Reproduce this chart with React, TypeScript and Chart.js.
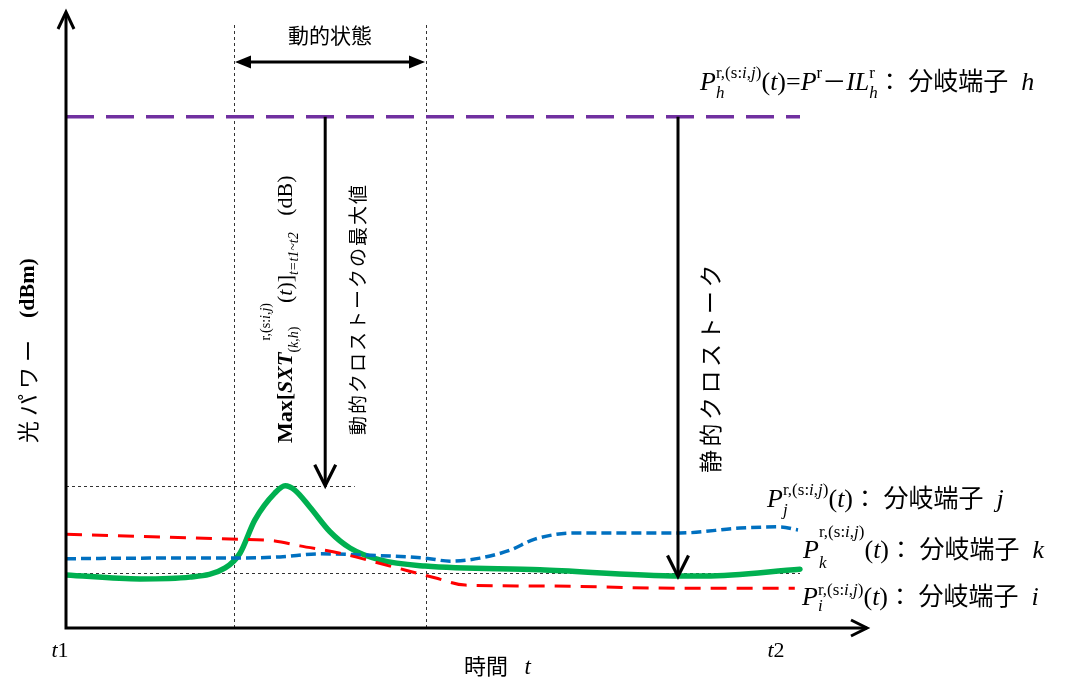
import React, { useEffect, useRef } from 'react';
import { Chart, registerables } from 'chart.js';

Chart.register(...registerables);

// ---- data (time in arbitrary units, optical power in arbitrary dBm units) ----
const timeK = [0, 9.25, 15.5, 19.9, 21.75, 23.6, 26.1, 27.4, 28.6, 30.5, 33, 35.5, 39.25, 44.9, 59.25, 76.75, 79.9, 91.75];
const powerK = [8.65, 8.0, 8.3, 9.8, 12.2, 17.6, 22.0, 23.2, 22.5, 19.7, 15.7, 13.05, 11.1, 10.1, 9.5, 8.5, 8.5, 9.6];

const timeJ = [0, 10.5, 20.5, 26.75, 31.75, 37.4, 44.9, 48, 51.75, 55.5, 58.6, 63.6, 76.75, 84.25, 89.25, 91.5];
const powerJ = [11.3, 11.4, 11.4, 11.6, 12.1, 11.9, 11.4, 10.9, 11.4, 12.7, 14.5, 15.5, 15.5, 16.3, 16.5, 16.0];

const timeI = [0, 20.5, 26.1, 29.25, 34.25, 40.5, 46.1, 49.9, 59.25, 76.75, 91.1];
const powerI = [15.3, 14.5, 14.2, 13.4, 12.2, 10.1, 8.2, 7.0, 6.85, 6.5, 6.5];

const timeH = [0, 91.75];
const powerH = [83.4, 83.4];

const dynamicWindow = [21, 45];
const maxArrowTime = 32.4;
const peakLevel = 23.2;
const peakLineEnd = 36.1;
const staticArrowTime = 76.5;
const staticArrowTip = 8.4;
const staticLevel = 9.0;
const staticLineEnd = 91.75;

const tickTimes = [-0.75, 88.75];
const tickLabels = ['t1', 't2'];

const SERIF = '"Liberation Serif", "Times New Roman", serif';
const CJK = '"Noto Sans CJK JP", "Noto Sans CJK SC", sans-serif';

type Seg = { t: string; st: string; s: number; dy: number; cjk?: boolean };
type Item = Seg | { sub: Seg[]; sup: Seg[]; supOff?: number };

const R = (t: string, s: number, dy = 0): Seg => ({ t, st: '', s, dy });
const I = (t: string, s: number, dy = 0): Seg => ({ t, st: 'italic ', s, dy });
const B = (t: string, s: number, dy = 0): Seg => ({ t, st: 'bold ', s, dy });
const BI = (t: string, s: number, dy = 0): Seg => ({ t, st: 'italic bold ', s, dy });
const J = (t: string, s: number, dy = 0): Seg => ({ t, st: '', s, dy, cjk: true });

const supR = (s: number, dy: number): Seg[] => [R('r,(s:', s, dy), I('i', s, dy), R(',', s, dy), I('j', s, dy), R(')', s, dy)];

function drawSegs(ctx: CanvasRenderingContext2D, segs: Seg[], x0: number) {
  let cx = x0;
  for (const s of segs) {
    ctx.font = `${s.st}${s.s}px ${s.cjk ? CJK : SERIF}`;
    ctx.fillText(s.t, cx, s.dy);
    cx += ctx.measureText(s.t).width;
  }
  return cx - x0;
}

function drawRich(ctx: CanvasRenderingContext2D, x: number, y: number, items: Item[], angle = 0) {
  ctx.save();
  ctx.translate(x, y);
  ctx.rotate(angle);
  ctx.textAlign = 'left';
  ctx.textBaseline = 'alphabetic';
  ctx.fillStyle = '#000';
  let cx = 0;
  for (const it of items) {
    if ('sub' in it) {
      const off = it.supOff || 0;
      const w1 = drawSegs(ctx, it.sub, cx);
      const w2 = drawSegs(ctx, it.sup, cx + off) + off;
      cx += Math.max(w1, w2);
    } else {
      cx += drawSegs(ctx, [it], cx);
    }
  }
  ctx.restore();
}

function vText(ctx: CanvasRenderingContext2D, text: string, x: number, y: number, font: string, spacing: string) {
  ctx.save();
  ctx.translate(x, y);
  ctx.rotate(-Math.PI / 2);
  ctx.font = font;
  (ctx as any).letterSpacing = spacing;
  ctx.textAlign = 'left';
  ctx.textBaseline = 'middle';
  ctx.fillStyle = '#000';
  ctx.fillText(text, 0, 0);
  ctx.restore();
}

function vArrowDown(ctx: CanvasRenderingContext2D, x: number, y0: number, y1: number) {
  ctx.save();
  ctx.strokeStyle = '#000';
  ctx.lineWidth = 3;
  ctx.setLineDash([]);
  ctx.beginPath();
  ctx.moveTo(x, y0);
  ctx.lineTo(x, y1 - 1);
  ctx.stroke();
  ctx.lineWidth = 3.2;
  ctx.beginPath();
  ctx.moveTo(x - 10.5, y1 - 21);
  ctx.lineTo(x, y1);
  ctx.lineTo(x + 10.5, y1 - 21);
  ctx.stroke();
  ctx.restore();
}

const overlay = {
  id: 'overlay',
  beforeDatasetsDraw(chart: any) {
    const ctx: CanvasRenderingContext2D = chart.ctx;
    const xs = chart.scales.x;
    const ys = chart.scales.y;
    const { left, bottom } = chart.chartArea;
    ctx.save();
    ctx.strokeStyle = '#333';
    ctx.lineWidth = 1;
    ctx.setLineDash([3, 3]);
    for (const t of dynamicWindow) {
      const px = Math.round(xs.getPixelForValue(t)) + 0.5;
      ctx.beginPath();
      ctx.moveTo(px, 25);
      ctx.lineTo(px, bottom);
      ctx.stroke();
    }
    let py = Math.round(ys.getPixelForValue(peakLevel)) + 0.5;
    ctx.beginPath();
    ctx.moveTo(left, py);
    ctx.lineTo(xs.getPixelForValue(peakLineEnd), py);
    ctx.stroke();
    py = Math.round(ys.getPixelForValue(staticLevel)) + 0.5;
    ctx.beginPath();
    ctx.moveTo(left, py);
    ctx.lineTo(xs.getPixelForValue(staticLineEnd), py);
    ctx.stroke();
    ctx.restore();
  },
  afterDatasetsDraw(chart: any) {
    const ctx: CanvasRenderingContext2D = chart.ctx;
    const xs = chart.scales.x;
    const ys = chart.scales.y;
    const { left, right, top, bottom } = chart.chartArea;
    ctx.save();
    // axes
    ctx.strokeStyle = '#000';
    ctx.lineWidth = 3;
    ctx.setLineDash([]);
    ctx.lineCap = 'butt';
    ctx.beginPath();
    ctx.moveTo(left, bottom + 1.5);
    ctx.lineTo(left, top - 2);
    ctx.moveTo(left - 1.5, bottom);
    ctx.lineTo(right + 1, bottom);
    ctx.stroke();
    ctx.beginPath();
    ctx.moveTo(left - 8, top + 14);
    ctx.lineTo(left, top - 3);
    ctx.lineTo(left + 8, top + 14);
    ctx.moveTo(right - 15, bottom - 8);
    ctx.lineTo(right + 1, bottom);
    ctx.lineTo(right - 15, bottom + 8);
    ctx.stroke();

    // dynamic state double arrow
    const xa = xs.getPixelForValue(dynamicWindow[0]);
    const xb = xs.getPixelForValue(dynamicWindow[1]);
    const ya = 62;
    ctx.beginPath();
    ctx.moveTo(xa + 12, ya);
    ctx.lineTo(xb - 12, ya);
    ctx.stroke();
    ctx.fillStyle = '#000';
    ctx.beginPath();
    ctx.moveTo(xa + 1, ya);
    ctx.lineTo(xa + 17, ya - 6.5);
    ctx.lineTo(xa + 17, ya + 6.5);
    ctx.closePath();
    ctx.fill();
    ctx.beginPath();
    ctx.moveTo(xb - 1, ya);
    ctx.lineTo(xb - 17, ya - 6.5);
    ctx.lineTo(xb - 17, ya + 6.5);
    ctx.closePath();
    ctx.fill();
    ctx.font = `21px ${CJK}`;
    ctx.textAlign = 'center';
    ctx.textBaseline = 'middle';
    ctx.fillText('動的状態', (xa + xb) / 2, 35);

    // crosstalk arrows
    const yH = ys.getPixelForValue(powerH[0]);
    vArrowDown(ctx, xs.getPixelForValue(maxArrowTime), yH, ys.getPixelForValue(peakLevel));
    vArrowDown(ctx, xs.getPixelForValue(staticArrowTime), yH, ys.getPixelForValue(staticArrowTip));

    // tick labels
    ctx.textBaseline = 'alphabetic';
    tickTimes.forEach((t, i) => {
      const px = xs.getPixelForValue(t);
      const lab = tickLabels[i];
      ctx.font = `italic 22px ${SERIF}`;
      const w1 = ctx.measureText(lab[0]).width;
      ctx.font = `22px ${SERIF}`;
      const w2 = ctx.measureText(lab.slice(1)).width;
      const x0 = px - (w1 + w2) / 2;
      ctx.textAlign = 'left';
      ctx.font = `italic 22px ${SERIF}`;
      ctx.fillText(lab[0], x0, 657);
      ctx.font = `22px ${SERIF}`;
      ctx.fillText(lab.slice(1), x0 + w1, 657);
    });
    // x title
    drawRich(ctx, 464, 674, [J('時間', 22), R('   ', 22), I('t', 23)]);
    // y title
    vText(ctx, '光パワー', 28, 443, `22px ${CJK}`, '5px');
    vText(ctx, '(dBm)', 28, 318, `bold 22px ${SERIF}`, '0px');

    // rotated annotations
    drawRich(ctx, 292, 443, [
      B('Max[', 22), BI('SXT', 22),
      { sub: [R('(', 14, 6), I('k', 14, 6), R(',', 14, 6), I('h', 14, 6), R(')', 14, 6)], sup: supR(14, -22), supOff: 12 },
      R('(', 22), I('t', 22), R(')]', 22),
      I('t=t1~t2', 14, 6),
      R('   (dB)', 22),
    ], -Math.PI / 2);
    vText(ctx, '動的クロストークの最大値', 358, 435, `19px ${CJK}`, '2px');
    vText(ctx, '静的クロストーク', 710, 473, `23px ${CJK}`, '3.5px');

    // series labels
    drawRich(ctx, 700, 90, [
      I('P', 26), { sub: [I('h', 17, 8)], sup: supR(17, -12) },
      R('(', 26), I('t', 26), R(')=', 26), I('P', 26), R('r', 17, -12), J('－', 24),
      I('IL', 26), { sub: [I('h', 17, 8)], sup: [R('r', 17, -12)] },
      J('：', 24), R(' ', 26), J('分岐端子', 25), R('  ', 26), I('h', 26),
    ]);
    drawRich(ctx, 767, 507, [
      I('P', 26), { sub: [I('j', 17, 8)], sup: supR(17, -12) },
      R('(', 26), I('t', 26), R(')', 26),
      J('：', 24), R(' ', 26), J('分岐端子', 25), R('  ', 26), I('j', 26),
    ]);
    drawRich(ctx, 803, 558, [
      I('P', 26), { sub: [I('k', 17, 10)], sup: supR(17, -21) },
      R('(', 26), I('t', 26), R(')', 26),
      J('：', 24), R(' ', 26), J('分岐端子', 25), R('  ', 26), I('k', 26),
    ]);
    drawRich(ctx, 802, 605, [
      I('P', 26), { sub: [I('i', 17, 6)], sup: supR(17, -10) },
      R('(', 26), I('t', 26), R(')', 26),
      J('：', 24), R(' ', 26), J('分岐端子', 25), R('  ', 26), I('i', 26),
    ]);
    ctx.restore();
  },
};

const pts = (xs: number[], ys: number[]) => xs.map((x, i) => ({ x, y: ys[i] }));

export default function App() {
  const ref = useRef<HTMLCanvasElement>(null);
  useEffect(() => {
    if (!ref.current) return;
    const chart = new Chart(ref.current, {
      type: 'line',
      data: {
        datasets: [
          { label: 'h', data: pts(timeH, powerH), borderColor: 'rgb(112,48,160)', borderWidth: 3.5, borderDash: [28, 12], pointRadius: 0, tension: 0 },
          { label: 'i', data: pts(timeI, powerI), borderColor: 'rgb(255,0,0)', borderWidth: 3, borderDash: [16, 10], pointRadius: 0, cubicInterpolationMode: 'monotone' },
          { label: 'j', data: pts(timeJ, powerJ), borderColor: 'rgb(0,112,192)', borderWidth: 3.5, borderDash: [10, 5], pointRadius: 0, cubicInterpolationMode: 'monotone' },
          { label: 'k', data: pts(timeK, powerK), borderColor: 'rgb(0,176,80)', borderWidth: 5.5, pointRadius: 0, cubicInterpolationMode: 'monotone', borderCapStyle: 'round', borderJoinStyle: 'round' },
        ] as any,
      },
      options: {
        animation: false,
        responsive: true,
        maintainAspectRatio: false,
        devicePixelRatio: 1,
        layout: { padding: { left: 66, right: 199, top: 15, bottom: 52 } },
        scales: {
          x: { type: 'linear', min: 0, max: 100, display: false },
          y: { type: 'linear', min: 0, max: 100, display: false },
        },
        plugins: { legend: { display: false }, tooltip: { enabled: false } },
        events: [],
      },
      plugins: [overlay],
    });
    return () => chart.destroy();
  }, []);
  return (
    <div style={{ position: 'absolute', left: 0, top: 0, width: 1065, height: 680, background: '#fff' }}>
      <canvas ref={ref} />
    </div>
  );
}
